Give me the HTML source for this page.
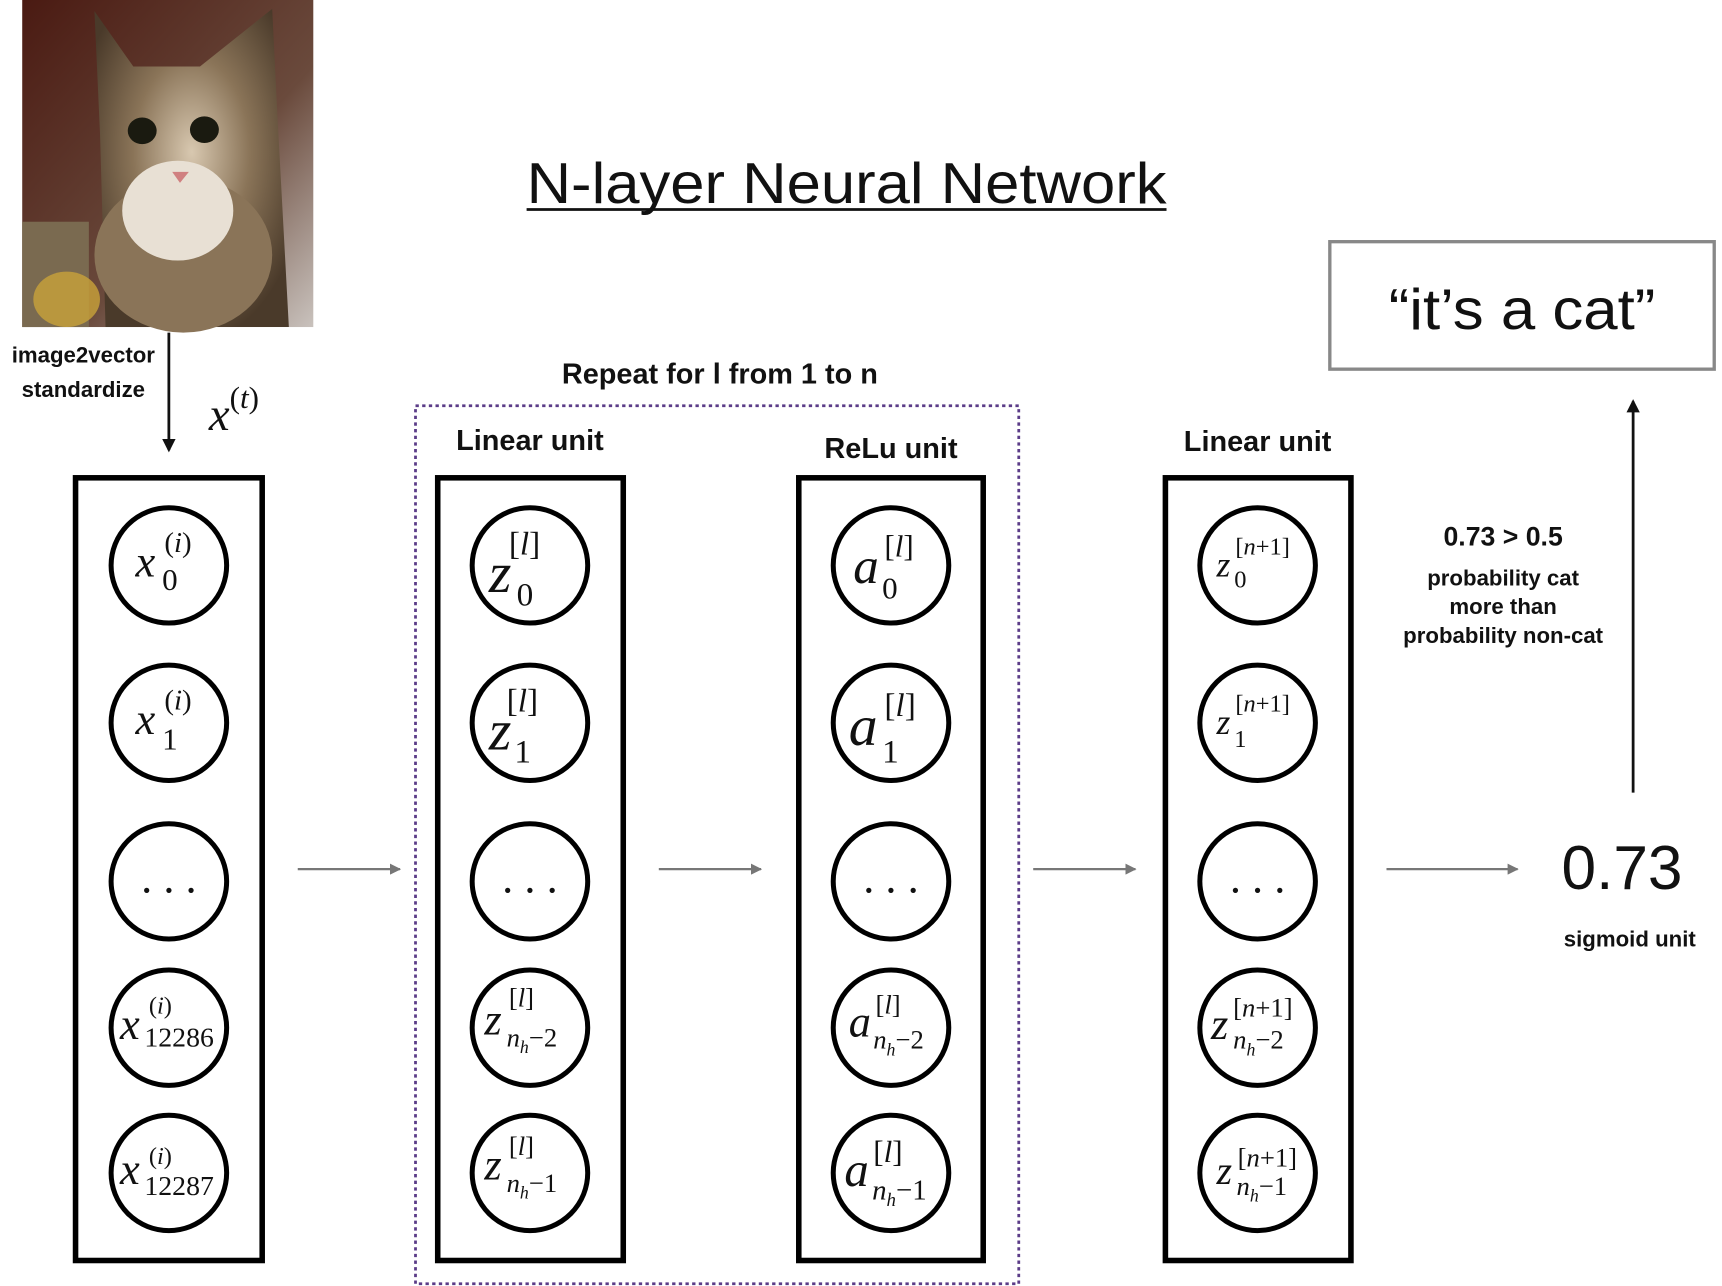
<!DOCTYPE html>
<html><head><meta charset="utf-8"><style>
html,body{margin:0;padding:0;background:#fff;width:1722px;height:1286px;overflow:hidden}
svg{display:block}
.b{font-family:"Liberation Sans",sans-serif;font-weight:bold;fill:#111}
.m{font-family:"Liberation Serif",serif;font-style:italic;fill:#111}
.r{font-family:"Liberation Serif",serif;fill:#111}
</style></head><body>
<svg width="1722" height="1286" viewBox="0 0 1550 1160" preserveAspectRatio="none" xmlns="http://www.w3.org/2000/svg">
<defs>
<linearGradient id="bg" x1="0" y1="0" x2="1" y2="1"><stop offset="0" stop-color="#4a1a12"/><stop offset="0.6" stop-color="#6a4a3c"/><stop offset="1" stop-color="#c9c2bd"/></linearGradient>
<radialGradient id="fur" cx="0.5" cy="0.45" r="0.6"><stop offset="0" stop-color="#d8c8b0"/><stop offset="0.5" stop-color="#8a7458"/><stop offset="1" stop-color="#4a3a2a"/></radialGradient>
<marker id="ag" markerWidth="10" markerHeight="10" refX="9" refY="5" orient="auto" markerUnits="userSpaceOnUse"><path d="M0,0 L10,5 L0,10 z" fill="#777"/></marker>
<marker id="ak" markerWidth="12" markerHeight="12" refX="10" refY="6" orient="auto" markerUnits="userSpaceOnUse"><path d="M0,0 L12,6 L0,12 z" fill="#111"/></marker>
</defs>
<!-- cat -->
<rect x="20" y="0" width="262" height="295" fill="url(#bg)"/>
<rect x="20" y="200" width="60" height="95" fill="#7a6a50"/>
<ellipse cx="60" cy="270" rx="30" ry="25" fill="#c9a23a" opacity="0.8"/>
<path d="M85,10 L120,60 L180,60 L245,8 L250,110 L260,295 L95,295 L90,120 Z" fill="url(#fur)"/>
<ellipse cx="165" cy="230" rx="80" ry="70" fill="#8a7458"/>
<ellipse cx="160" cy="190" rx="50" ry="45" fill="#e8e0d4"/>
<ellipse cx="128" cy="118" rx="13" ry="12" fill="#1a1a10"/><ellipse cx="184" cy="117" rx="13" ry="12" fill="#1a1a10"/>
<path d="M155,155 L170,155 L162,165 Z" fill="#d08080"/>
<!-- title -->
<text x="762" y="183" text-anchor="middle" font-family="Liberation Sans,sans-serif" font-size="52" fill="#111" textLength="576" lengthAdjust="spacingAndGlyphs">N-layer Neural Network</text>
<line x1="474" y1="189" x2="1050" y2="189" stroke="#111" stroke-width="2.5"/>
<!-- it's a cat -->
<rect x="1197" y="218" width="346" height="115" fill="none" stroke="#888" stroke-width="3"/>
<text x="1370" y="297" text-anchor="middle" font-family="Liberation Sans,sans-serif" font-size="52" fill="#111" textLength="240" lengthAdjust="spacingAndGlyphs">“it’s a cat”</text>
<!-- left labels -->
<text x="75" y="327" text-anchor="middle" class="b" font-size="20">image2vector</text>
<text x="75" y="358" text-anchor="middle" class="b" font-size="20">standardize</text>
<line x1="152" y1="300" x2="152" y2="406" stroke="#111" stroke-width="2.5" marker-end="url(#ak)"/>
<text x="188" y="388" class="m" font-size="42">x<tspan font-size="28" dy="-20" font-style="normal">(</tspan><tspan font-size="28">t</tspan><tspan font-size="28" font-style="normal">)</tspan></text>
<!-- repeat -->
<text x="648" y="346" text-anchor="middle" class="b" font-size="26">Repeat for l from 1 to n</text>
<rect x="374" y="366" width="543" height="792" fill="none" stroke="#5b3c88" stroke-width="2.5" stroke-dasharray="3,3"/>
<text x="477" y="406" text-anchor="middle" class="b" font-size="26">Linear unit</text>
<text x="802" y="413" text-anchor="middle" class="b" font-size="26">ReLu unit</text>
<text x="1132" y="407" text-anchor="middle" class="b" font-size="26">Linear unit</text>
<!-- boxes -->
<g fill="none" stroke="#000" stroke-width="5">
<rect x="68" y="431" width="168" height="706"/>
<rect x="394" y="431" width="167" height="706"/>
<rect x="719" y="431" width="166" height="706"/>
<rect x="1049" y="431" width="167" height="706"/>
</g>
<g fill="none" stroke="#000" stroke-width="4.5">
<circle cx="152" cy="510" r="52"/><circle cx="152" cy="652" r="52"/><circle cx="152" cy="795" r="52"/><circle cx="152" cy="927" r="52"/><circle cx="152" cy="1058" r="52"/>
<circle cx="477" cy="510" r="52"/><circle cx="477" cy="652" r="52"/><circle cx="477" cy="795" r="52"/><circle cx="477" cy="927" r="52"/><circle cx="477" cy="1058" r="52"/>
<circle cx="802" cy="510" r="52"/><circle cx="802" cy="652" r="52"/><circle cx="802" cy="795" r="52"/><circle cx="802" cy="927" r="52"/><circle cx="802" cy="1058" r="52"/>
<circle cx="1132" cy="510" r="52"/><circle cx="1132" cy="652" r="52"/><circle cx="1132" cy="795" r="52"/><circle cx="1132" cy="927" r="52"/><circle cx="1132" cy="1058" r="52"/>
</g>
<!-- dots -->
<g class="r" font-size="40" text-anchor="middle">
<text x="152" y="805">. . .</text><text x="477" y="805">. . .</text><text x="802" y="805">. . .</text><text x="1132" y="805">. . .</text>
</g>
<!-- column 1 -->
<text x="122" y="520" class="m" font-size="40">x</text><text x="146" y="532" class="r" font-size="28">0</text><text x="148" y="498" class="r" font-size="26">(<tspan font-style="italic">i</tspan>)</text>
<text x="122" y="662" class="m" font-size="40">x</text><text x="146" y="676" class="r" font-size="28">1</text><text x="148" y="640" class="r" font-size="26">(<tspan font-style="italic">i</tspan>)</text>
<text x="108" y="937" class="m" font-size="40">x</text><text x="130" y="944" class="r" font-size="25">12286</text><text x="134" y="914" class="r" font-size="22">(<tspan font-style="italic">i</tspan>)</text>
<text x="108" y="1068" class="m" font-size="40">x</text><text x="130" y="1078" class="r" font-size="25">12287</text><text x="134" y="1050" class="r" font-size="22">(<tspan font-style="italic">i</tspan>)</text>
<!-- column 2 -->
<text x="440" y="534" class="m" font-size="52">z</text><text x="465" y="546" class="r" font-size="30">0</text><text x="458" y="500" class="r" font-size="30">[<tspan font-style="italic">l</tspan>]</text>
<text x="440" y="676" class="m" font-size="52">z</text><text x="463" y="688" class="r" font-size="30">1</text><text x="456" y="642" class="r" font-size="30">[<tspan font-style="italic">l</tspan>]</text>
<text x="436" y="933" class="m" font-size="40">z</text><text x="456" y="944" class="m" font-size="24">n<tspan font-size="16" dy="6">h</tspan><tspan dy="-6" font-style="normal">−2</tspan></text><text x="458" y="908" class="r" font-size="24">[<tspan font-style="italic">l</tspan>]</text>
<text x="436" y="1064" class="m" font-size="40">z</text><text x="456" y="1075" class="m" font-size="24">n<tspan font-size="16" dy="6">h</tspan><tspan dy="-6" font-style="normal">−1</tspan></text><text x="458" y="1042" class="r" font-size="24">[<tspan font-style="italic">l</tspan>]</text>
<!-- column 3 -->
<text x="768" y="526" class="m" font-size="46">a</text><text x="794" y="540" class="r" font-size="28">0</text><text x="796" y="502" class="r" font-size="28">[<tspan font-style="italic">l</tspan>]</text>
<text x="764" y="672" class="m" font-size="52">a</text><text x="794" y="688" class="r" font-size="30">1</text><text x="796" y="646" class="r" font-size="30">[<tspan font-style="italic">l</tspan>]</text>
<text x="764" y="935" class="m" font-size="40">a</text><text x="786" y="946" class="m" font-size="24">n<tspan font-size="16" dy="6">h</tspan><tspan dy="-6" font-style="normal">−2</tspan></text><text x="788" y="914" class="r" font-size="24">[<tspan font-style="italic">l</tspan>]</text>
<text x="760" y="1070" class="m" font-size="44">a</text><text x="785" y="1082" class="m" font-size="26">n<tspan font-size="17" dy="6">h</tspan><tspan dy="-6" font-style="normal">−1</tspan></text><text x="786" y="1048" class="r" font-size="28">[<tspan font-style="italic">l</tspan>]</text>
<!-- column 4 -->
<text x="1095" y="520" class="m" font-size="32">z</text><text x="1111" y="530" class="r" font-size="22">0</text><text x="1112" y="500" class="r" font-size="22">[<tspan font-style="italic">n</tspan>+1]</text>
<text x="1095" y="662" class="m" font-size="32">z</text><text x="1111" y="674" class="r" font-size="22">1</text><text x="1112" y="642" class="r" font-size="22">[<tspan font-style="italic">n</tspan>+1]</text>
<text x="1090" y="937" class="m" font-size="40">z</text><text x="1110" y="946" class="m" font-size="24">n<tspan font-size="16" dy="6">h</tspan><tspan dy="-6" font-style="normal">−2</tspan></text><text x="1110" y="917" class="r" font-size="24">[<tspan font-style="italic">n</tspan>+1]</text>
<text x="1095" y="1068" class="m" font-size="36">z</text><text x="1113" y="1078" class="m" font-size="24">n<tspan font-size="16" dy="6">h</tspan><tspan dy="-6" font-style="normal">−1</tspan></text><text x="1114" y="1052" class="r" font-size="24">[<tspan font-style="italic">n</tspan>+1]</text>
<!-- arrows -->
<g stroke="#777" stroke-width="2" marker-end="url(#ag)">
<line x1="268" y1="784" x2="360" y2="784"/>
<line x1="593" y1="784" x2="685" y2="784"/>
<line x1="930" y1="784" x2="1022" y2="784"/>
<line x1="1248" y1="784" x2="1366" y2="784"/>
</g>
<line x1="1470" y1="715" x2="1470" y2="362" stroke="#111" stroke-width="2.5" marker-end="url(#ak)"/>
<!-- output -->
<text x="1460" y="802" text-anchor="middle" font-family="Liberation Sans,sans-serif" font-size="56" fill="#111">0.73</text>
<text x="1467" y="854" text-anchor="middle" class="b" font-size="20">sigmoid unit</text>
<text x="1353" y="492" text-anchor="middle" class="b" font-size="24">0.73 &gt; 0.5</text>
<text x="1353" y="528" text-anchor="middle" class="b" font-size="20">probability cat</text>
<text x="1353" y="554" text-anchor="middle" class="b" font-size="20">more than</text>
<text x="1353" y="580" text-anchor="middle" class="b" font-size="20">probability non-cat</text>
</svg>
</body></html>
